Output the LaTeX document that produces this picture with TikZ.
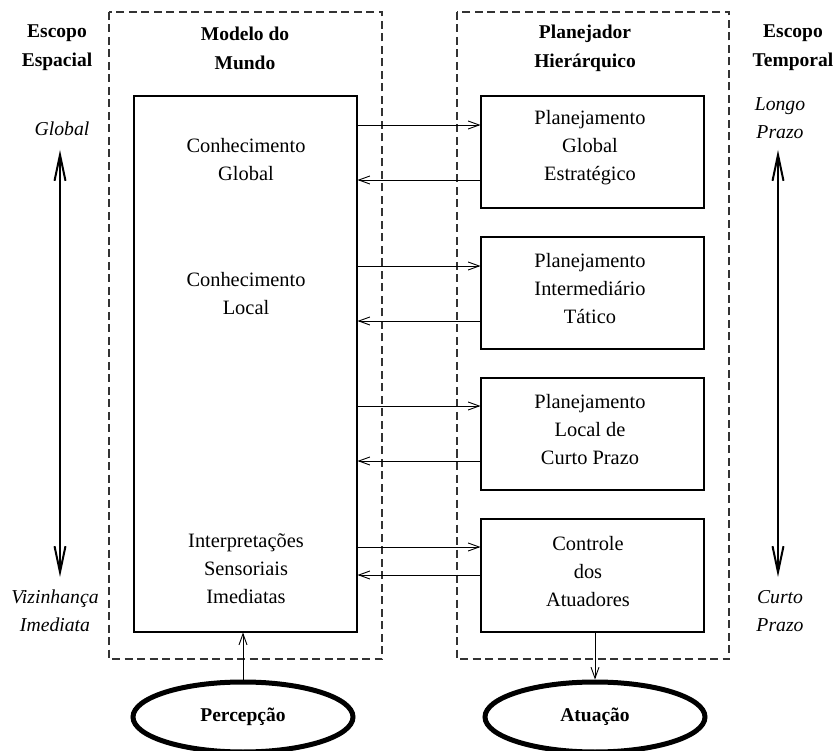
\documentclass[tikz,border=0pt]{standalone}
\usepackage{fontspec}
\setmainfont{Liberation Serif}
\usetikzlibrary{arrows.meta,shapes.geometric}
\begin{document}
\begin{tikzpicture}[x=1pt,y=-1pt,
  txt/.style={align=center,font=\fontsize{20.4}{28}\selectfont,inner sep=0pt},
  hd/.style={align=center,font=\fontsize{19.5}{29}\selectfont\bfseries,inner sep=0pt},
  it/.style={align=center,font=\fontsize{19.7}{28}\selectfont\itshape,inner sep=0pt},
  grp/.style={draw=black!80,dash pattern=on 8pt off 4.5pt,line width=1.2pt},
  blk/.style={draw,line width=1.1pt,inner sep=0pt,minimum width=223pt},
  ar/.style={line width=0.9pt,-{Straight Barb[length=11pt,width=8pt]}},
  big/.style={line width=2pt,{Straight Barb[length=26pt,width=11pt]}-{Straight Barb[length=26pt,width=11pt]}},
  ell/.style={draw,line width=5pt,ellipse,minimum width=220pt,minimum height=70pt,inner sep=0pt,font=\fontsize{19.5}{24}\selectfont\bfseries}]
\useasboundingbox (0,0) rectangle (836,751);
% dashed groups
\draw[grp] (109,12) rectangle (382,659);
\draw[grp] (457,12) rectangle (729,659);
% headings
\node[hd] (h1) at (57,48) {Escopo\\Espacial};
\node[hd] (h2) at (245,48) {Modelo do\\Mundo};
\node[hd] (h3) at (585,48) {Planejador\\Hierárquico};
\node[hd] (h4) at (793,48) {Escopo\\Temporal};
% world model box
\node[blk,minimum height=536pt] (wm) at (245.5,364) {};
\node[txt] (kg) at (246,160) {Conhecimento\\Global};
\node[txt] (kl) at (246,294) {Conhecimento\\Local};
\node[txt] (is) at (246,569) {Interpretações\\Sensoriais\\Imediatas};
% planner boxes
\node[blk,minimum height=112pt] (p1) at (592.5,152) {};
\node[blk,minimum height=112pt] (p2) at (592.5,293) {};
\node[blk,minimum height=112pt] (p3) at (592.5,434) {};
\node[blk,minimum height=113pt] (p4) at (592.5,575.5) {};
\node[txt] (t1) at (590,148) {Planejamento\\Global\\Estratégico};
\node[txt] (t2) at (590,289) {Planejamento\\Intermediário\\Tático};
\node[txt] (t3) at (590,430) {Planejamento\\Local de\\Curto Prazo};
\node[txt] (t4) at (588,572) {Controle\\dos\\Atuadores};
% horizontal arrows
\draw[ar] (wm.east |- 0,125) -- (p1.west |- 0,125);
\draw[ar] (p1.west |- 0,180) -- (wm.east |- 0,180);
\draw[ar] (wm.east |- 0,266) -- (p2.west |- 0,266);
\draw[ar] (p2.west |- 0,321) -- (wm.east |- 0,321);
\draw[ar] (wm.east |- 0,406) -- (p3.west |- 0,406);
\draw[ar] (p3.west |- 0,461) -- (wm.east |- 0,461);
\draw[ar] (wm.east |- 0,547) -- (p4.west |- 0,547);
\draw[ar] (p4.west |- 0,575) -- (wm.east |- 0,575);
% scope labels and arrows
\node[it] (gl) at (62,129) {Global};
\node[it] (vi) at (55,611) {Vizinhança\\Imediata};
\node[it] (lp) at (780,118) {Longo\\Prazo};
\node[it] (cp) at (780,611) {Curto\\Prazo};
\coordinate (a1) at (60,150);
\coordinate (a2) at (60,577);
\coordinate (b1) at (778,150);
\coordinate (b2) at (778,577);
\draw[big] (a2) -- (a1);
\draw[big] (b1) -- (b2);
% ellipses
\node[ell] (pe) at (243,717) {Percepção};
\node[ell] (at) at (595,717) {Atuação};
\draw[ar] (pe.north) -- (pe.north |- wm.south);
\draw[ar] (at.north |- p4.south) -- (at.north);
\end{tikzpicture}
\end{document}
